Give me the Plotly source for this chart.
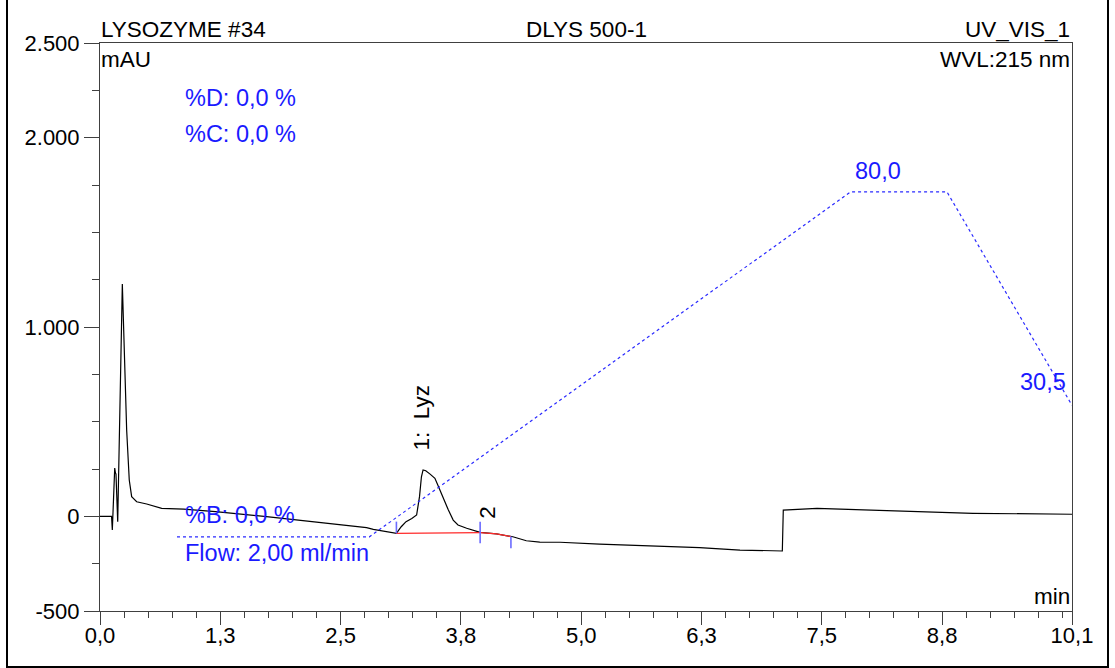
import plotly.graph_objects as go

# --- UV trace (min, mAU) ---
time_min = [0.00, 0.12, 0.128, 0.153, 0.160, 0.166, 0.184, 0.232, 0.277, 0.304,
            0.329, 0.381, 0.485, 0.52, 0.641, 0.87, 1.20, 1.73, 2.25, 2.49,
            2.77, 2.84, 3.08, 3.13, 3.18, 3.24, 3.29, 3.32, 3.34, 3.357,
            3.385, 3.43, 3.48, 3.51, 3.565, 3.62, 3.67, 3.72, 3.81, 3.95,
            4.12, 4.29, 4.43, 4.57, 4.78, 5.19, 6.23, 6.65, 7.09, 7.10,
            7.45, 8.48, 9.07, 10.1]
signal_mau = [0, 0, -72, 255, 230, 223, -28, 1227, 456, 192,
              104, 77, 65, 60, 42, 38, 25, -2, -32, -46,
              -60, -69, -90, -55, -28, -11, 7, 104, 209, 245,
              241, 223, 201, 165, 95, 33, -20, -46, -63, -85,
              -93, -108, -129, -136, -137, -147, -165, -178, -183, 33,
              42, 24, 16, 11]

# --- integration baselines ---
base1_t = [3.08, 3.95]
base1_v = [-90, -86]
base2_t = [3.95, 4.12, 4.27]
base2_v = [-86, -93, -107]

# --- peak delimiters (time, low, high) ---
delim_t = [3.08, 3.95, 4.27]
delim_lo = [-90, -142, -169]
delim_hi = [-28, -28, -107]

# --- %B gradient program ---
grad_t = [0.80, 2.80, 7.80, 8.80, 10.1]
grad_b = [0.0, 0.0, 80.0, 80.0, 30.5]

# --- axis ticks ---
x_tickvals = [0, 1.25, 2.5, 3.75, 5.0, 6.25, 7.5, 8.75, 10.1]
x_ticktext = ["0,0", "1,3", "2,5", "3,8", "5,0", "6,3", "7,5", "8,8", "10,1"]
y_tickvals = [-500, 0, 1000, 2000, 2500]
y_ticktext = ["-500", "0", "1.000", "2.000", "2.500"]

W, H = 1115, 668
L, R, T, B = 100, 1072, 43, 611  # plot area in pixels

def px(xp):
    return (xp - L) / (R - L)

def py(yp):
    return (B - yp) / (B - T)

FONT = "Arial, Liberation Sans, sans-serif"
BLUE = "#1a1aff"
TXT = 22.5
BTXT = 23.5
fig = go.Figure()

fig.add_trace(go.Scatter(x=time_min, y=signal_mau, mode="lines",
                         line=dict(color="black", width=1.2), hoverinfo="skip"))
fig.add_trace(go.Scatter(x=base1_t, y=base1_v, mode="lines",
                         line=dict(color="#ff2a2a", width=1.3), hoverinfo="skip"))
fig.add_trace(go.Scatter(x=base2_t, y=base2_v, mode="lines",
                         line=dict(color="#ff2a2a", width=1.3), hoverinfo="skip"))
for t, lo, hi in zip(delim_t, delim_lo, delim_hi):
    fig.add_trace(go.Scatter(x=[t, t], y=[lo, hi], mode="lines",
                             line=dict(color="#6b6bff", width=1.6), hoverinfo="skip"))
fig.add_trace(go.Scatter(x=grad_t, y=grad_b, mode="lines", yaxis="y2",
                         line=dict(color="#2a2aff", width=1.2, dash="dot"),
                         hoverinfo="skip"))

axis_common = dict(showgrid=False, zeroline=False, showline=True, linecolor="#404040",
                   linewidth=1, mirror=True, ticks="outside", tickcolor="#404040",
                   tickfont=dict(family=FONT, size=22, color="black"))

fig.update_layout(
    width=W, height=H, showlegend=False,
    margin=dict(l=L, r=W - R, t=T, b=H - B),
    plot_bgcolor="white", paper_bgcolor="white",
    xaxis=dict(range=[0, 10.1], tickmode="array", tickvals=x_tickvals,
               ticktext=x_ticktext, ticklen=13, ticklabelstandoff=-8,
               minor=dict(tick0=0, dtick=0.25, ticklen=6, ticks="outside",
                          tickcolor="#404040"),
               **axis_common),
    yaxis=dict(range=[-500, 2500], tickmode="array", tickvals=y_tickvals,
               ticktext=y_ticktext, ticklen=15,
               minor=dict(tick0=0, dtick=250, ticklen=7, ticks="outside",
                          tickcolor="#404040"),
               **axis_common),
    yaxis2=dict(range=[-17.2, 114.5], overlaying="y", side="right",
                visible=False),
)

def note(text, x, y, xanchor, yanchor, color="black", size=TXT, **kw):
    fig.add_annotation(text=text, x=x, y=y, xref="paper", yref="paper",
                       xanchor=xanchor, yanchor=yanchor, showarrow=False,
                       font=dict(family=FONT, size=size, color=color), **kw)

# header texts
note("LYSOZYME #34", px(99), py(44), "left", "bottom")
note("DLYS 500-1", 0.5, py(44), "center", "bottom")
note("UV_VIS_1", px(1072), py(44), "right", "bottom")
note("mAU", px(99), py(45), "left", "top")
note("WVL:215 nm", px(1072), py(45), "right", "top")

# method info
note("%D: 0,0 %", px(183), py(98), "left", "middle", BLUE, BTXT)
note("%C: 0,0 %", px(183), py(134), "left", "middle", BLUE, BTXT)
note("%B: 0,0 %", px(183), py(515), "left", "middle", BLUE, BTXT)
note("Flow: 2,00 ml/min", px(183), py(553), "left", "middle", BLUE, BTXT)
note("min", px(1072), py(611), "right", "bottom")

# gradient labels
fig.add_annotation(text="80,0", x=grad_t[2], y=grad_b[2], xref="x", yref="y2",
                   xanchor="left", yanchor="bottom", xshift=2, yshift=6,
                   showarrow=False, font=dict(family=FONT, size=BTXT, color=BLUE))
fig.add_annotation(text="30,5", x=grad_t[-1], y=grad_b[-1], xref="x", yref="y2",
                   xanchor="right", yanchor="bottom", xshift=-4, yshift=8,
                   showarrow=False, font=dict(family=FONT, size=BTXT, color=BLUE))

# peak labels
fig.add_annotation(text="1:\u00a0 Lyz", x=3.34, y=519, xref="x", yref="y",
                   xanchor="center", yanchor="middle", textangle=-90,
                   showarrow=False, font=dict(family=FONT, size=TXT, color="black"))
fig.add_annotation(text="2", x=4.03, y=23, xref="x", yref="y",
                   xanchor="center", yanchor="middle", textangle=-90,
                   showarrow=False, font=dict(family=FONT, size=TXT, color="black"))

# outer frame
fig.add_shape(type="rect", xref="paper", yref="paper",
              x0=px(7), x1=px(1108), y0=py(667), y1=py(-10),
              line=dict(color="black", width=2), layer="below")

fig.write_html("out.html")
